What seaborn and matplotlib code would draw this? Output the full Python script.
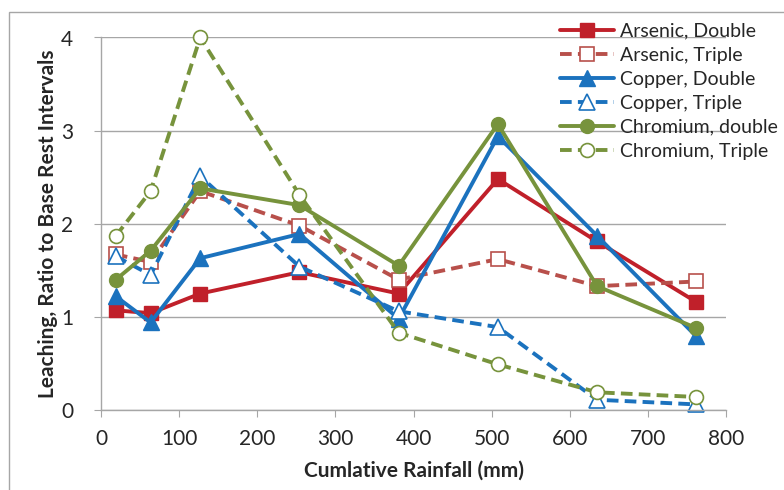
import numpy as np
import pandas as pd
import seaborn as sns
import matplotlib.pyplot as plt
from matplotlib.patches import Rectangle

# Cumulative rainfall (mm)
rain = [19, 63.5, 127, 254, 381, 508, 635, 762]

arsenic_double = [1.07, 1.04, 1.25, 1.48, 1.25, 2.48, 1.81, 1.16]
arsenic_triple = [1.67, 1.59, 2.35, 1.98, 1.40, 1.62, 1.33, 1.38]
copper_double = [1.22, 0.94, 1.63, 1.89, 0.98, 2.94, 1.87, 0.79]
copper_triple = [1.65, 1.45, 2.51, 1.54, 1.06, 0.89, 0.11, 0.06]
chromium_double = [1.40, 1.71, 2.38, 2.20, 1.55, 3.07, 1.33, 0.88]
chromium_triple = [1.87, 2.35, 4.00, 2.31, 0.83, 0.49, 0.19, 0.14]

series_names = ["Arsenic, Double", "Arsenic, Triple", "Copper, Double",
                "Copper, Triple", "Chromium, double", "Chromium, Triple"]
series_vals = [arsenic_double, arsenic_triple, copper_double,
               copper_triple, chromium_double, chromium_triple]

colors = ["#C0202A", "#B8504B", "#1B72BE", "#1B72BE", "#77933C", "#77933C"]
markers = ["s", "s", "^", "^", "o", "o"]
dashed = [False, True, False, True, False, True]

rows = []
for name, vals in zip(series_names, series_vals):
    for r, v in zip(rain, vals):
        rows.append({"Rainfall": r, "Ratio": v, "Series": name})
df = pd.DataFrame(rows)

sns.set_style("white")
plt.rcParams['font.family'] = ['Lato', 'DejaVu Sans']

fig = plt.figure(figsize=(7.84, 4.9), dpi=100)
ax = fig.add_axes([101/784, 1 - 410/490, 625/784, (410 - 37.5)/490])

# outer chart frame (partly outside the image)
fig.patches.append(Rectangle((9/784, -0.2), 1.2, 0.2 + (1 - 12/490), transform=fig.transFigure,
                             fill=False, edgecolor="#a6a6a6", linewidth=1.0, zorder=0))

for i, name in enumerate(series_names):
    sub = df[df["Series"] == name]
    sns.lineplot(data=sub, x="Rainfall", y="Ratio", ax=ax, color=colors[i],
                 marker=markers[i], markersize=10 if markers[i] != "^" else 11,
                 linewidth=2.8, linestyle=(0, (3, 1.6)) if dashed[i] else "-",
                 markerfacecolor="white" if dashed[i] else colors[i],
                 markeredgecolor=colors[i], markeredgewidth=1.2 if dashed[i] else 1,
                 label=name, clip_on=False)

ax.set_xlim(0, 800)
ax.set_ylim(0, 4)
ax.set_xticks(np.arange(0, 801, 100))
ax.set_yticks(np.arange(0, 5, 1))
ax.yaxis.grid(True, color="#a6a6a6", linewidth=1)
ax.xaxis.grid(False)
for s in ["top", "right"]:
    ax.spines[s].set_visible(False)
for s in ["left", "bottom"]:
    ax.spines[s].set_color("#a6a6a6")
    ax.spines[s].set_linewidth(1)
ax.tick_params(axis="both", which="both", direction="out", length=5, color="#a6a6a6",
               labelsize=15, left=True, bottom=True)
ax.tick_params(axis="x", pad=9)
ax.tick_params(axis="y", pad=15)
ax.set_xlabel("Cumlative Rainfall (mm)", fontsize=15, fontweight="bold", labelpad=8)
ax.set_ylabel("Leaching, Ratio to Base Rest Intervals", fontsize=15, fontweight="bold", labelpad=2)
ax.set_axisbelow(True)

leg = ax.legend(loc="upper left", bbox_to_anchor=(552/784, 1 - 15/490), bbox_transform=fig.transFigure,
                frameon=False, fontsize=14, handlelength=2.8, handletextpad=0.3,
                labelspacing=0.36, borderaxespad=0)

fig.savefig("out.png", dpi=100)
